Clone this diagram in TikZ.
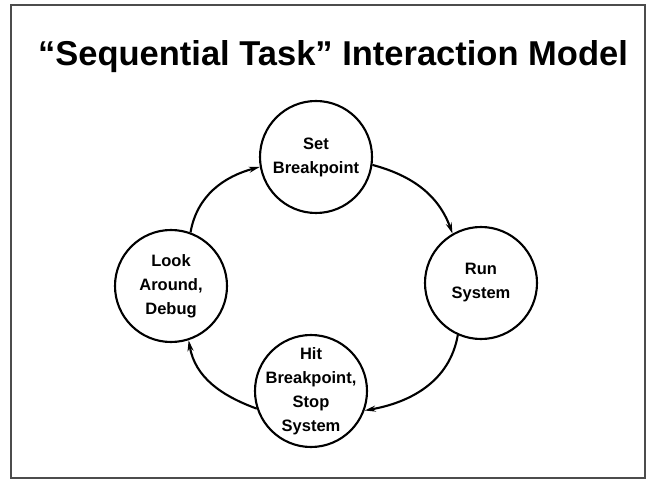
\documentclass[tikz,border=0pt]{standalone}
\usepackage{fontspec}
\setmainfont{Liberation Sans}
\usetikzlibrary{arrows.meta}
\begin{document}
\begin{tikzpicture}[x=1pt,y=1pt,
  state/.style={circle,draw,line width=2.1pt,minimum size=112pt,inner sep=-20pt,
    align=center,font=\fontsize{16.5}{24}\selectfont\bfseries},
  flow/.style={line width=2.1pt,-{Stealth[length=11pt,width=6pt]}}]
\useasboundingbox (0,0) rectangle (652,479);
% outer frame
\draw[line width=1.2pt,black!70] (11,474) rectangle (645,1);
% title
\node[anchor=base] (title) at (333,413) {\fontsize{34.5}{40}\selectfont\bfseries “Sequential Task” Interaction Model};
% the four states of the loop
\node[state] (set)  at (316,322) {Set\\Breakpoint};
\node[state] (run)  at (481,196) {Run\\System};
\node[state] (hit)  at (311,88)  {Hit\\Breakpoint,\\Stop\\System};
\node[state] (look) at (171,193) {Look\\Around,\\Debug};
% transitions
\draw[flow] (look.70)  to[out=80,in=195]  (set.190);
\draw[flow] (set.352)  to[out=-15,in=110] (run.120);
\draw[flow] (run.246)  to[out=260,in=10]  (hit.340);
\draw[flow] (hit.198)  to[out=160,in=280] (look.288);
\end{tikzpicture}
\end{document}
